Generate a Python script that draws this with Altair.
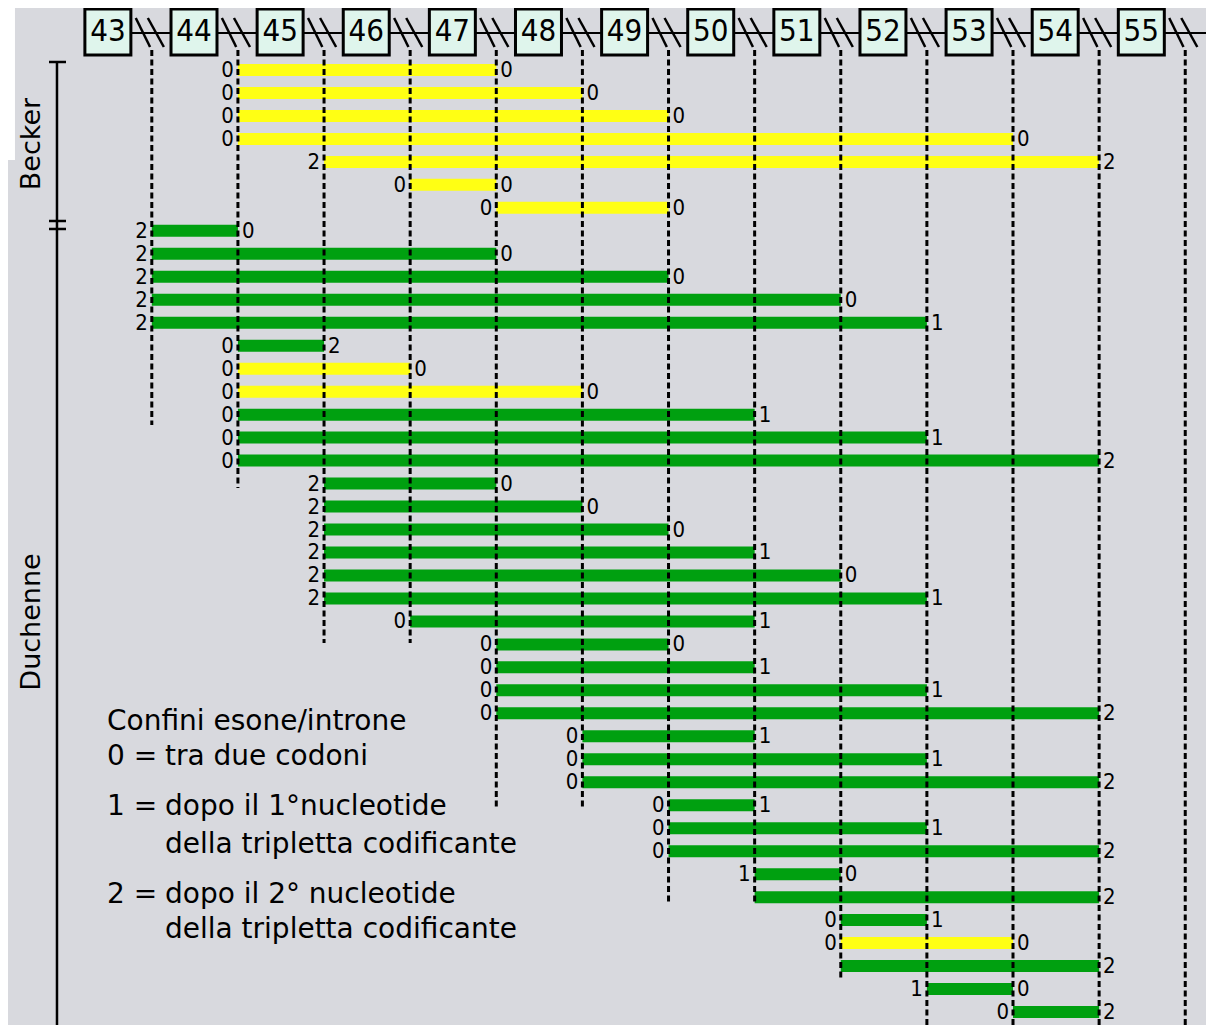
import altair as alt
import pandas as pd

# ---------------- data ----------------
exons = [43, 44, 45, 46, 47, 48, 49, 50, 51, 52, 53, 54, 55]
# reading-frame phase at the boundary after each exon 43..54 (boundary index 0..11)
boundary_phase = [2, 0, 2, 0, 0, 0, 0, 1, 0, 1, 0, 2]

# each deletion: first and last boundary index (boundary k lies after exon 43+k)
del_start = [1, 1, 1, 1, 2, 3, 4,
             0, 0, 0, 0, 0,
             1, 1, 1, 1, 1, 1,
             2, 2, 2, 2, 2, 2,
             3,
             4, 4, 4, 4,
             5, 5, 5,
             6, 6, 6,
             7, 7,
             8, 8, 8,
             9,
             10]
del_end = [4, 5, 6, 10, 11, 4, 6,
           1, 4, 6, 8, 9,
           2, 3, 5, 7, 9, 11,
           4, 5, 6, 7, 8, 9,
           7,
           6, 7, 9, 11,
           7, 9, 11,
           7, 9, 11,
           8, 11,
           9, 10, 11,
           10,
           11]
del_colour = (["yellow"] * 7 +
              ["green"] * 5 +
              ["green", "yellow", "yellow", "green", "green", "green"] +
              ["green"] * 6 + ["green"] + ["green"] * 4 + ["green"] * 3 +
              ["green"] * 3 + ["green"] * 2 +
              ["green", "yellow", "green"] + ["green"] + ["green"])
rows_without_left_label = [37, 40]
# row where each dashed boundary line stops (boundary 0..12)
dash_end_row = [16.45, 19.19, 25.94, 25.94, 33.12, 33.12, 37.26, 37.26, 40.61, 43.0, 43.0, 43.0, 43.0]

group_names = ["Becker", "Duchenne"]
legend_title = "Confini esone/introne"
legend_keys = ["0 =", "1 =", "", "2 =", ""]
legend_desc = ["tra due codoni", "dopo il 1°nucleotide", "della tripletta codificante",
               "dopo il 2° nucleotide", "della tripletta codificante"]

# ---------------- layout (data units: x = boundary index, y = row index) ----------------
W, H = 1198, 1017
XDOM = [-1.6698, 12.241]
YDOM = [-1.698, 42.565]
BOX_OFF = -0.51
BOX_HALF = 0.267
BOX_TOP, BOX_BOT = -1.655, 0.347
BOX_MID = -0.654
LINE_Y = -0.610
LINE_END = 12.253
SLASH_TOP, SLASH_BOT = -1.263, -0.001
DASH_TOP = 0.130
BRACKET_X = -1.101
TICK_X = (-1.194, -0.996)
TICK_Y = [0.652, 7.572, 7.920]
SIDE_X = -1.391
SIDE_Y = [4.221, 25.025]
LEG_X1, LEG_X2 = -0.520, 0.153
LEG_TITLE_Y = 29.38
LEG_Y = [30.90, 33.08, 34.73, 36.91, 38.43]
PATCH_X2, PATCH_Y2 = -1.589, 4.917

BG = "#D8D9DE"
GREEN = "#00A010"
YELLOW = "#FFFF14"
FONT = "DejaVu Sans"
FONT_C = "DejaVu Sans Condensed"

xs = alt.Scale(domain=XDOM, nice=False, zero=False)
ys = alt.Scale(domain=YDOM, nice=False, zero=False, reverse=True)


def X(f="x"):
    return alt.X(f"{f}:Q", scale=xs, axis=None)


def Y(f="y"):
    return alt.Y(f"{f}:Q", scale=ys, axis=None)


# white patch at top-left of the original picture
patch = alt.Chart(pd.DataFrame({"x": [XDOM[0]], "x2": [PATCH_X2], "y": [YDOM[0]], "y2": [PATCH_Y2]})).mark_rect(
    color="white").encode(x=X(), x2="x2", y=Y(), y2="y2")

# connector line through the exon boxes
conn = alt.Chart(pd.DataFrame({"x": [BOX_OFF + BOX_HALF], "x2": [LINE_END], "y": [LINE_Y]})).mark_rule(
    color="black", strokeWidth=2).encode(x=X(), x2="x2", y=Y())

# double slashes at each intron
bidx = list(range(len(exons)))
sl = pd.DataFrame({
    "x": [b - 0.186 for b in bidx] + [b - 0.046 for b in bidx],
    "x2": [b - 0.02 for b in bidx] + [b + 0.14 for b in bidx],
    "y": [SLASH_TOP] * (2 * len(bidx)),
    "y2": [SLASH_BOT] * (2 * len(bidx)),
})
slashes = alt.Chart(sl).mark_rule(color="black", strokeWidth=2.5).encode(x=X(), x2="x2", y=Y(), y2="y2")

# exon boxes
bx = pd.DataFrame({"exon": [str(e) for e in exons],
                   "c": [i + BOX_OFF for i in range(len(exons))]})
bx["x"] = bx["c"] - BOX_HALF
bx["x2"] = bx["c"] + BOX_HALF
bx["y"] = BOX_TOP
bx["y2"] = BOX_BOT
bx["ym"] = BOX_MID
boxes = alt.Chart(bx).mark_rect(fill="#DFF5EC", stroke="black", strokeWidth=3).encode(
    x=X(), x2="x2", y=Y(), y2="y2")
box_txt = alt.Chart(bx).mark_text(font=FONT_C, fontSize=31, color="black", baseline="middle",
                                  align="center").encode(x=X("c"), y=Y("ym"), text="exon:N")

# deletion bars
rows = list(range(1, len(del_start) + 1))
bars_df = pd.DataFrame({"row": rows, "s": del_start, "e": del_end, "col": del_colour})
bars = alt.Chart(bars_df).mark_rule(strokeWidth=12, strokeCap="butt").encode(
    x=X("s"), x2="e", y=Y("row"),
    color=alt.Color("col:N", scale=alt.Scale(domain=["yellow", "green"], range=[YELLOW, GREEN]), legend=None))

# dashed boundary lines
dl = pd.DataFrame({"x": bidx, "y": [DASH_TOP] * len(bidx), "y2": dash_end_row})
dashes = alt.Chart(dl).mark_rule(color="black", strokeWidth=3, strokeDash=[6, 3.5]).encode(
    x=X(), y=Y(), y2="y2")

# phase labels
left = pd.DataFrame({"row": rows, "x": del_start,
                     "t": [str(boundary_phase[s]) for s in del_start]})
left = left[~left["row"].isin(rows_without_left_label)]
right = pd.DataFrame({"row": rows, "x": del_end,
                      "t": [str(boundary_phase[e]) for e in del_end]})
lab_l = alt.Chart(left).mark_text(font=FONT_C, fontSize=22, align="right", baseline="middle", dx=-4,
                                  color="black").encode(x=X(), y=Y("row"), text="t:N")
lab_r = alt.Chart(right).mark_text(font=FONT_C, fontSize=22, align="left", baseline="middle", dx=4,
                                   color="black").encode(x=X(), y=Y("row"), text="t:N")

# brackets on the left
vbr = alt.Chart(pd.DataFrame({"x": [BRACKET_X], "y": [TICK_Y[0]], "y2": [43.0]})).mark_rule(
    color="black", strokeWidth=2.5).encode(x=X(), y=Y(), y2="y2")
ticks = alt.Chart(pd.DataFrame({"x": [TICK_X[0]] * 3, "x2": [TICK_X[1]] * 3,
                                "y": TICK_Y})).mark_rule(
    color="black", strokeWidth=2.5).encode(x=X(), x2="x2", y=Y())
side = alt.Chart(pd.DataFrame({"x": [SIDE_X, SIDE_X], "y": SIDE_Y, "t": group_names})).mark_text(
    font=FONT, fontSize=27, angle=270, align="center", baseline="middle", color="black").encode(
    x=X(), y=Y(), text="t:N")

# legend text
lt = alt.Chart(pd.DataFrame({"x": [LEG_X1], "y": [LEG_TITLE_Y], "t": [legend_title]})).mark_text(
    font=FONT, fontSize=28, align="left", baseline="middle", color="black").encode(x=X(), y=Y(), text="t:N")
lk = alt.Chart(pd.DataFrame({"x": [LEG_X1] * 5, "y": LEG_Y, "t": legend_keys})).mark_text(
    font=FONT, fontSize=28, align="left", baseline="middle", color="black").encode(x=X(), y=Y(), text="t:N")
ld = alt.Chart(pd.DataFrame({"x": [LEG_X2] * 5, "y": LEG_Y, "t": legend_desc})).mark_text(
    font=FONT, fontSize=28, align="left", baseline="middle", color="black").encode(x=X(), y=Y(), text="t:N")

chart = alt.layer(patch, conn, slashes, boxes, box_txt, bars, dashes, lab_l, lab_r,
                  vbr, ticks, side, lt, lk, ld).properties(
    width=W, height=H, background=BG, padding=0,
    autosize=alt.AutoSizeParams(type="none")
).configure_view(stroke=None)

chart.save("out.html", embed_options={"renderer": "svg", "actions": False})
